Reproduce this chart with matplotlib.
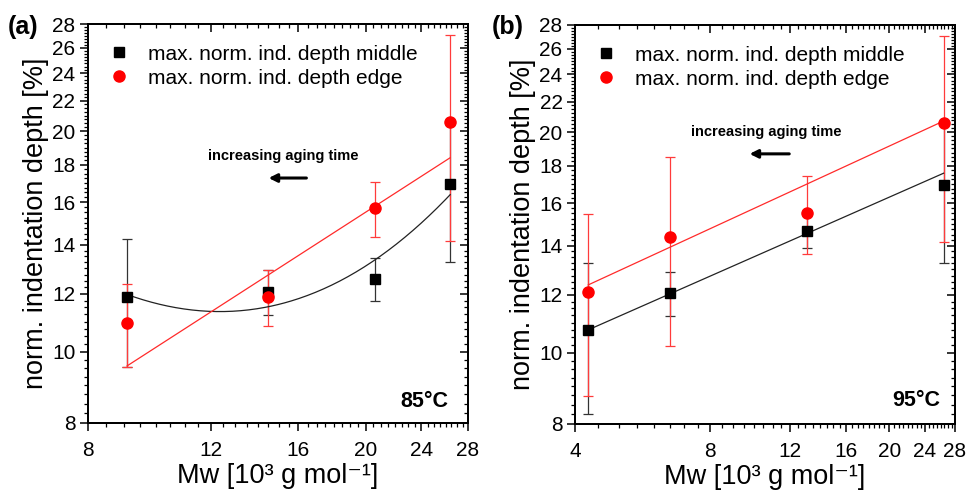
import matplotlib
matplotlib.use('Agg')
import matplotlib.pyplot as plt
from matplotlib.ticker import FixedLocator, FormatStrFormatter, NullFormatter
import numpy as np

plt.rcParams['font.family'] = ['Liberation Sans', 'DejaVu Sans']
plt.rcParams['mathtext.fontset'] = 'custom'
plt.rcParams['mathtext.rm'] = 'Liberation Sans'

# panel (a) 85 C
mw_a = [9.1, 14.5, 20.6, 26.4]
mid_a = [11.9, 12.08, 12.57, 16.94]
mid_a_err = [2.35, 0.85, 0.85, 3.66]
edge_a = [10.96, 11.9, 15.7, 20.6]
edge_a_err = [1.42, 1.05, 1.34, 6.43]
# fitted curves
fit_a_mid_x = [9.1, 9.93, 11.09, 12.37, 13.8, 14.5, 16.11, 18.38, 20.67, 24.19, 26.4]
fit_a_mid_y = [11.96, 11.71, 11.41, 11.33, 11.44, 11.53, 11.83, 12.53, 13.42, 14.98, 16.45]
fit_a_edge_x = [9.1, 26.4]
fit_a_edge_y = [9.57, 18.4]

# panel (b) 95 C
mw_b = [4.28, 6.51, 13.14, 26.4]
mid_b = [10.75, 12.06, 14.68, 16.94]
mid_b_err = [2.5, 0.83, 0.8, 3.66]
edge_b = [12.1, 14.37, 15.53, 20.6]
edge_b_err = [3.37, 4.15, 1.9, 6.43]
fit_b_mid_x = [4.28, 26.4]
fit_b_mid_y = [10.75, 17.58]
fit_b_edge_x = [4.28, 26.4]
fit_b_edge_y = [12.38, 20.71]

y_major = [8, 10, 12, 14, 16, 18, 20, 22, 24, 26, 28]
xa_major = [8, 12, 16, 20, 24, 28]
xb_major = [4, 8, 12, 16, 20, 24, 28]

fig = plt.figure(figsize=(9.69, 4.91), dpi=100)
ax_a = fig.add_axes([0.0908, 0.1385, 0.3922, 0.8126])
ax_b = fig.add_axes([0.5934, 0.1365, 0.3922, 0.8126])


def setup(ax, xlim, xmajor):
    ax.set_xscale('log')
    ax.set_yscale('log')
    ax.set_xlim(*xlim)
    ax.set_ylim(8, 28)
    ax.xaxis.set_major_locator(FixedLocator(xmajor))
    ax.xaxis.set_minor_locator(FixedLocator(np.arange(xlim[0], xlim[1] + 0.01, 0.5)))
    ax.yaxis.set_major_locator(FixedLocator(y_major))
    ax.yaxis.set_minor_locator(FixedLocator(np.arange(8, 28.01, 0.25)))
    ax.xaxis.set_major_formatter(FormatStrFormatter('%d'))
    ax.yaxis.set_major_formatter(FormatStrFormatter('%d'))
    ax.xaxis.set_minor_formatter(NullFormatter())
    ax.yaxis.set_minor_formatter(NullFormatter())
    ax.tick_params(which='major', direction='out', length=6, width=1.1, labelsize=15, pad=3)
    ax.tick_params(axis='x', which='major', pad=7)
    ax.tick_params(which='minor', direction='out', length=3, width=0.9)
    for s in ax.spines.values():
        s.set_linewidth(1.2)
    ax.set_xlabel('Mw [10³ g mol⁻¹]', fontsize=19.5, labelpad=2)
    ax.set_ylabel('norm. indentation depth [%]', fontsize=19.5, labelpad=2)

    # inward ticks on top and right
    tx = ax.twiny()
    tx.set_xscale('log')
    tx.set_xlim(*xlim)
    tx.xaxis.set_major_locator(FixedLocator(xmajor))
    tx.xaxis.set_minor_locator(FixedLocator(np.arange(xlim[0], xlim[1] + 0.01, 0.5)))
    tx.xaxis.set_major_formatter(NullFormatter())
    tx.xaxis.set_minor_formatter(NullFormatter())
    tx.tick_params(which='major', direction='in', length=6, width=1.1)
    tx.tick_params(which='minor', direction='in', length=3, width=0.9)
    ty = ax.twinx()
    ty.set_yscale('log')
    ty.set_ylim(8, 28)
    ty.yaxis.set_major_locator(FixedLocator(y_major))
    ty.yaxis.set_minor_locator(FixedLocator(np.arange(8, 28.01, 0.25)))
    ty.yaxis.set_major_formatter(NullFormatter())
    ty.yaxis.set_minor_formatter(NullFormatter())
    ty.tick_params(which='major', direction='in', length=6, width=1.1)
    ty.tick_params(which='minor', direction='in', length=3, width=0.9)
    for t in (tx, ty):
        for s in t.spines.values():
            s.set_linewidth(1.2)


def smooth(fx, fy):
    # smooth rendering of the fitted curve through the values
    if len(fx) <= 2:
        return fx, fy
    lx = np.log(fx)
    coef = np.polyfit(lx, np.log(fy), 3)
    xx = np.linspace(lx[0], lx[-1], 200)
    return np.exp(xx), np.exp(np.polyval(coef, xx))


def draw(ax, mw, mid, mid_err, edge, edge_err, fits):
    ax.errorbar(mw, mid, yerr=mid_err, fmt='none', ecolor='#333333', elinewidth=0.9,
                capsize=3.5, capthick=0.9, zorder=2)
    ax.errorbar(mw, edge, yerr=edge_err, fmt='none', ecolor='#ff3b3b', elinewidth=0.9,
                capsize=3.5, capthick=0.9, zorder=2.1)
    for fx, fy, c in fits:
        sx, sy = smooth(fx, fy)
        ax.plot(sx, sy, color=c, lw=0.9, zorder=3)
    ax.plot(mw, mid, 's', color='black', ms=6.5, zorder=4,
            label='max. norm. ind. depth middle')
    ax.plot(mw, edge, 'o', color='#ff0000', ms=8, zorder=5,
            label='max. norm. ind. depth edge')
    ax.legend(loc='upper left', bbox_to_anchor=(0.0, 0.985), frameon=False, fontsize=15,
              handletextpad=0.6, borderaxespad=0.3, labelspacing=0.25, handlelength=1.6)


setup(ax_a, (8, 28), xa_major)
draw(ax_a, mw_a, mid_a, mid_a_err, edge_a, edge_a_err,
     [(fit_a_mid_x, fit_a_mid_y, '#222222'), (fit_a_edge_x, fit_a_edge_y, '#ff2a2a')])
setup(ax_b, (4, 28), xb_major)
draw(ax_b, mw_b, mid_b, mid_b_err, edge_b, edge_b_err,
     [(fit_b_mid_x, fit_b_mid_y, '#222222'), (fit_b_edge_x, fit_b_edge_y, '#ff2a2a')])

# annotations
ax_a.text(0.513, 0.669, 'increasing aging time', transform=ax_a.transAxes, ha='center',
          va='center', fontsize=10.5, fontweight='bold')
ax_a.annotate('', xy=(0.468, 0.614), xytext=(0.582, 0.614), xycoords='axes fraction',
              arrowprops=dict(arrowstyle='-|>', lw=2.2, color='black', mutation_scale=12))
ax_a.text(0.947, 0.04, '85°C', transform=ax_a.transAxes, ha='right', va='baseline',
          fontsize=15.5, fontweight='bold')

ax_b.text(0.503, 0.732, 'increasing aging time', transform=ax_b.transAxes, ha='center',
          va='center', fontsize=10.5, fontweight='bold')
ax_b.annotate('', xy=(0.452, 0.677), xytext=(0.571, 0.677), xycoords='axes fraction',
              arrowprops=dict(arrowstyle='-|>', lw=2.2, color='black', mutation_scale=12))
ax_b.text(0.96, 0.044, '95°C', transform=ax_b.transAxes, ha='right', va='baseline',
          fontsize=15.5, fontweight='bold')

fig.text(8 / 969, 1 - 27 / 491, '(a)', fontsize=18, fontweight='bold', va='center', ha='left')
fig.text(492 / 969, 1 - 27 / 491, '(b)', fontsize=18, fontweight='bold', va='center', ha='left')

fig.savefig('out.png', dpi=100)
